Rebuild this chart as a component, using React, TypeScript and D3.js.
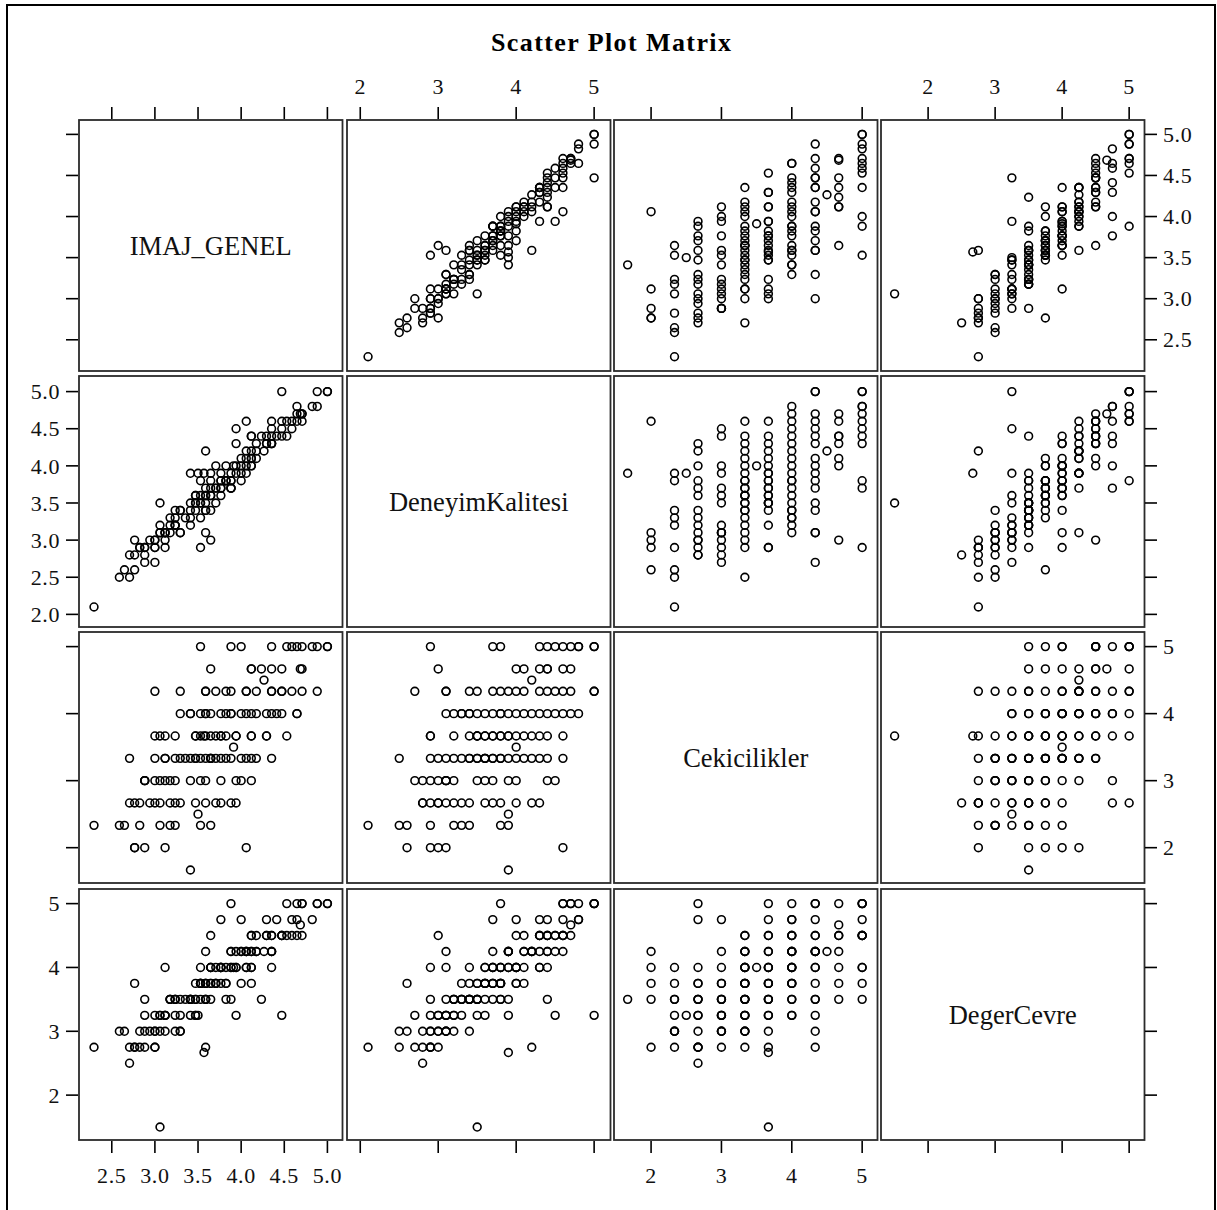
import React from 'react';
import * as d3 from 'd3';

// ---- data (one entry per respondent) ----
const cekicilikler = [
  1.667,
  2, 2, 2, 2, 2,
  2.333, 2.333, 2.333, 2.333, 2.333, 2.333, 2.333, 2.333, 2.333,
  2.5,
  2.667, 2.667, 2.667, 2.667, 2.667, 2.667, 2.667, 2.667, 2.667, 2.667, 2.667, 2.667, 2.667, 2.667, 2.667,
  3, 3, 3, 3, 3, 3, 3, 3, 3, 3, 3, 3, 3, 3, 3,
  3.333, 3.333, 3.333, 3.333, 3.333, 3.333, 3.333, 3.333, 3.333, 3.333, 3.333, 3.333,
  3.333, 3.333, 3.333, 3.333, 3.333, 3.333, 3.333, 3.333, 3.333, 3.333, 3.333, 3.333,
  3.5,
  3.667, 3.667, 3.667, 3.667, 3.667, 3.667, 3.667, 3.667, 3.667, 3.667, 3.667,
  3.667, 3.667, 3.667, 3.667, 3.667, 3.667, 3.667, 3.667, 3.667, 3.667,
  4, 4, 4, 4, 4, 4, 4, 4, 4, 4, 4, 4, 4, 4, 4, 4, 4, 4, 4, 4, 4,
  4.333, 4.333, 4.333, 4.333, 4.333, 4.333, 4.333, 4.333, 4.333, 4.333, 4.333, 4.333, 4.333, 4.333, 4.333, 4.333, 4.333,
  4.5,
  4.667, 4.667, 4.667, 4.667, 4.667, 4.667, 4.667, 4.667,
  5, 5, 5, 5, 5, 5, 5, 5, 5, 5, 5, 5,
];

const deneyimKalitesi = [
  3.9,
  4.6, 3.1, 3.0, 2.9, 2.6,
  2.1, 3.9, 3.8, 3.4, 3.3, 3.2, 2.9, 2.6, 2.5,
  3.9,
  4.3, 4.2, 4.0, 3.8, 3.7, 3.6, 3.4, 3.3, 3.2, 3.1, 3.0, 3.0, 2.9, 2.8, 2.8,
  4.5, 4.4, 4.0, 3.9, 3.7, 3.6, 3.5, 3.2, 3.1, 3.1, 3.0, 2.9, 2.8, 2.7, 3.1,
  4.6, 4.4, 4.3, 4.2, 4.1, 4.0, 3.9, 3.8, 3.8, 3.7, 3.7, 3.6,
  3.6, 3.6, 3.5, 3.5, 3.4, 3.4, 3.3, 3.2, 3.1, 3.0, 2.9, 2.5,
  4.0,
  4.6, 4.4, 4.3, 4.2, 4.1, 4.0, 3.9, 3.9, 3.8, 3.8, 3.7,
  3.7, 3.6, 3.6, 3.5, 3.5, 3.5, 3.4, 3.2, 2.9, 2.9,
  4.8, 4.7, 4.6, 4.5, 4.4, 4.3, 4.2, 4.1, 4.0, 3.9, 3.8, 3.8, 3.7, 3.6, 3.5, 3.4, 3.4, 3.3, 3.3, 3.2, 3.1,
  5.0, 5.0, 4.7, 4.6, 4.5, 4.4, 4.3, 4.1, 4.0, 3.9, 3.8, 3.7, 3.5, 3.4, 3.1, 3.1, 2.7,
  4.2,
  4.7, 4.6, 4.4, 4.4, 4.3, 4.1, 4.0, 3.0,
  5.0, 5.0, 4.8, 4.8, 4.7, 4.6, 4.5, 4.4, 4.3, 3.8, 3.7, 2.9,
];

const degerCevre = [
  3.5,
  4.25, 4.0, 2.75, 3.5, 3.75,
  2.75, 4.0, 3.75, 3.5, 3.5, 3.25, 3.0, 3.0, 3.0,
  3.25,
  4.0, 2.75, 3.75, 5.0, 4.75, 3.75, 3.5, 3.5, 3.5, 3.25, 3.25, 3.0, 2.75, 2.75, 2.5,
  3.25, 4.25, 4.75, 4.0, 3.75, 3.75, 3.5, 3.5, 3.25, 3.5, 3.0, 2.75, 3.0, 3.25, 3.0,
  4.5, 4.0, 4.5, 4.25, 4.25, 3.75, 4.25, 4.0, 3.5, 4.0, 3.75, 4.0,
  3.25, 3.75, 3.5, 3.75, 3.0, 3.5, 3.5, 3.25, 3.0, 3.25, 3.0, 2.75,
  4.0,
  5.0, 4.5, 4.75, 4.25, 4.5, 4.0, 2.667, 4.25, 4.0, 3.75, 3.75,
  4.0, 3.5, 3.75, 1.5, 3.5, 3.25, 3.5, 3.0, 3.25, 2.75,
  4.75, 5.0, 4.5, 4.25, 4.75, 4.5, 4.25, 4.0, 4.5, 4.25, 4.0, 3.75, 4.25, 4.0, 3.5, 3.75, 4.0, 3.25, 3.75, 3.5, 3.25,
  3.25, 5.0, 5.0, 4.75, 4.5, 4.25, 4.5, 4.25, 4.0, 4.25, 3.5, 4.0, 3.75, 3.5, 4.25, 3.0, 2.75,
  4.25,
  4.667, 5.0, 4.5, 3.5, 4.25, 3.75, 4.0, 4.5,
  5.0, 5.0, 4.75, 5.0, 4.5, 4.5, 4.5, 4.5, 4.0, 3.75, 3.5, 4.0,
];

const imajGenel = [
  3.412,
  4.059, 3.118, 2.765, 2.882, 2.765,
  2.294, 3.647, 3.529, 3.235, 3.176, 3.059, 2.824, 2.647, 2.588,
  3.5,
  3.941, 3.588, 3.706, 3.882, 3.765, 3.471, 3.294, 3.235, 3.176, 3.059, 3.0, 2.941, 2.824, 2.765, 2.706,
  3.941, 4.118, 4.0, 3.765, 3.588, 3.529, 3.412, 3.235, 3.118, 3.176, 3.0, 2.882, 2.882, 2.882, 3.059,
  4.353, 4.118, 4.176, 4.059, 4.0, 3.824, 3.882, 3.765, 3.647, 3.706, 3.647, 3.647,
  3.471, 3.588, 3.471, 3.529, 3.294, 3.412, 3.353, 3.235, 3.118, 3.118, 3.0, 2.706,
  3.912,
  4.529, 4.294, 4.294, 4.118, 4.118, 3.941, 3.569, 3.941, 3.824, 3.765, 3.706,
  3.765, 3.588, 3.647, 3.059, 3.529, 3.471, 3.471, 3.235, 3.118, 3.0,
  4.647, 4.647, 4.471, 4.353, 4.412, 4.294, 4.176, 4.059, 4.118, 4.0, 3.882, 3.824, 3.882, 3.765, 3.588, 3.588, 3.647, 3.412, 3.529, 3.412, 3.294,
  4.471, 4.882, 4.706, 4.588, 4.471, 4.353, 4.353, 4.176, 4.059, 4.059, 3.824, 3.882, 3.706, 3.588, 3.588, 3.294, 3.0,
  4.265,
  4.686, 4.706, 4.471, 4.235, 4.353, 4.118, 4.118, 3.647,
  5.0, 5.0, 4.824, 4.882, 4.706, 4.647, 4.588, 4.529, 4.353, 4.0, 3.882, 3.529,
];

// ---- variables, axis ticks ----
const varNames = ['IMAJ_GENEL', 'DeneyimKalitesi', 'Cekicilikler', 'DegerCevre'];
const imajTicks = [2.5, 3.0, 3.5, 4.0, 4.5, 5.0];
const deneyimXTicks = [2, 3, 4, 5];
const deneyimYTicks = [2.0, 2.5, 3.0, 3.5, 4.0, 4.5, 5.0];
const cekTicks = [2, 3, 4, 5];
const degerTicks = [2, 3, 4, 5];
const imajDomain = [2.12, 5.175];
const deneyimDomain = [1.83, 5.21];
const cekDomain = [1.473, 5.218];
const degerDomain = [1.297, 5.229];

const series = [imajGenel, deneyimKalitesi, cekicilikler, degerCevre];
const domains = [imajDomain, deneyimDomain, cekDomain, degerDomain];
const xTicks = [imajTicks, deneyimXTicks, cekTicks, degerTicks];
const yTicks = [imajTicks, deneyimYTicks, cekTicks, degerTicks];
const xFmt = [d3.format('.1f'), d3.format('d'), d3.format('d'), d3.format('d')];
const yFmt = [d3.format('.1f'), d3.format('.1f'), d3.format('d'), d3.format('d')];

// ---- layout ----
const COLS = [79, 347, 614, 881];
const ROWS = [120, 376, 632, 889];
const PW = 263.5;
const PH = 251;
const TICK = 12;
const FONT = "'Liberation Serif', 'Times New Roman', serif";

export default function App() {
  const xs = domains.map((d, j) => d3.scaleLinear().domain(d).range([COLS[j], COLS[j] + PW]));
  const ys = domains.map((d, i) => d3.scaleLinear().domain(d).range([ROWS[i] + PH, ROWS[i]]));
  const n = imajGenel.length;

  const panels: React.ReactNode[] = [];
  for (let i = 0; i < 4; i++) {
    for (let j = 0; j < 4; j++) {
      const key = `p${i}-${j}`;
      if (i === j) {
        panels.push(
          <text key={key + 't'} x={COLS[j] + PW / 2} y={ROWS[i] + PH / 2} dy="0.36em"
            textAnchor="middle" fontFamily={FONT} fontSize={26.5} fill="#111">{varNames[i]}</text>
        );
      } else {
        const pts = [];
        for (let k = 0; k < n; k++) {
          pts.push(
            <circle key={k} cx={xs[j](series[j][k])} cy={ys[i](series[i][k])} r={3.9}
              fill="none" stroke="#000" strokeWidth={1.6} />
          );
        }
        panels.push(<g key={key}>{pts}</g>);
      }
      panels.push(
        <rect key={key + 'b'} x={COLS[j]} y={ROWS[i]} width={PW} height={PH}
          fill="none" stroke="#2b2b2b" strokeWidth={1.8} />
      );
    }
  }

  const axes: React.ReactNode[] = [];
  for (let j = 0; j < 4; j++) {
    const top = ROWS[0] - 1;
    const bottom = ROWS[3] + PH + 1;
    xTicks[j].forEach((t, k) => {
      const x = xs[j](t);
      axes.push(<line key={`tt${j}-${k}`} x1={x} x2={x} y1={top} y2={top - TICK} stroke="#000" strokeWidth={1.6} />);
      axes.push(<line key={`tb${j}-${k}`} x1={x} x2={x} y1={bottom} y2={bottom + TICK} stroke="#000" strokeWidth={1.6} />);
      if (j % 2 === 1) {
        axes.push(<text key={`lt${j}-${k}`} x={x} y={94} textAnchor="middle" fontFamily={FONT}
          fontSize={22} letterSpacing={0.6} fill="#111">{xFmt[j](t)}</text>);
      } else {
        axes.push(<text key={`lb${j}-${k}`} x={x} y={1183} textAnchor="middle" fontFamily={FONT}
          fontSize={22} letterSpacing={0.6} fill="#111">{xFmt[j](t)}</text>);
      }
    });
  }
  for (let i = 0; i < 4; i++) {
    const left = COLS[0] - 1;
    const right = COLS[3] + PW + 0.5;
    yTicks[i].forEach((t, k) => {
      const y = ys[i](t);
      axes.push(<line key={`yl${i}-${k}`} x1={left} x2={left - TICK} y1={y} y2={y} stroke="#000" strokeWidth={1.6} />);
      axes.push(<line key={`yr${i}-${k}`} x1={right} x2={right + TICK} y1={y} y2={y} stroke="#000" strokeWidth={1.6} />);
      if (i % 2 === 1) {
        axes.push(<text key={`ll${i}-${k}`} x={60} y={y} dy="0.35em" textAnchor="end" fontFamily={FONT}
          fontSize={22} letterSpacing={0.6} fill="#111">{yFmt[i](t)}</text>);
      } else {
        axes.push(<text key={`lr${i}-${k}`} x={1163} y={y} dy="0.35em" textAnchor="start" fontFamily={FONT}
          fontSize={22} letterSpacing={0.6} fill="#111">{yFmt[i](t)}</text>);
      }
    });
  }

  return (
    <svg width={1217} height={1210} style={{ position: 'absolute', left: 0, top: 0, background: '#fff' }}>
      <rect x={7} y={5} width={1208} height={1240} fill="#fff" stroke="#000" strokeWidth={2} />
      <text x={611} y={51} textAnchor="middle" fontFamily={FONT} fontWeight="bold" fontSize={26}
        textLength={240} lengthAdjust="spacing" fill="#000">Scatter Plot Matrix</text>
      {panels}
      {axes}
    </svg>
  );
}
